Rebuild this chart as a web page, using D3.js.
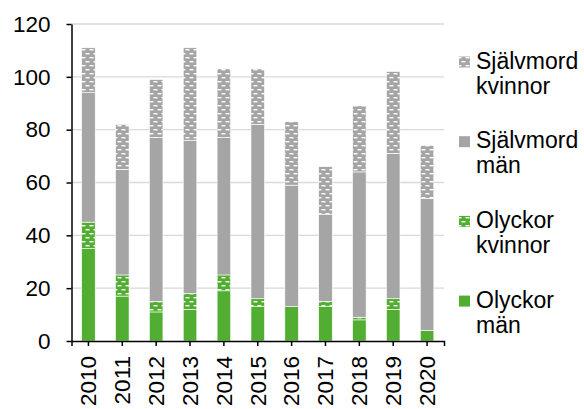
<!DOCTYPE html>
<html lang="sv">
  <head>
    <meta charset="UTF-8">
    <title>Olyckor och självmord</title>
    <script src="https://d3js.org/d3.v7.min.js"></script>
    <style>
      body {
        margin: 0;
        padding: 0;
        background: #fff;
        font-family: 'Liberation Sans', Arial, sans-serif;
      }
      .axis path,
      .axis line {
        stroke: #000;
        stroke-width: 1.5px;
      }
      .axis text {
        font-size: 22.5px;
        fill: #000;
      }
      .grid line {
        stroke: #d9d9d9;
        stroke-width: 1.3px;
      }
      .legend text {
        font-size: 23px;
        fill: #000;
      }
    </style>
  </head>
  <body>
    <svg id="chart" width="584" height="409"></svg>
    <script>
      const years = ["2010", "2011", "2012", "2013", "2014", "2015", "2016", "2017", "2018", "2019", "2020"];
      const olyckorMan = [35, 17, 11, 12, 19, 13, 13, 13, 8, 12, 4];
      const olyckorKvinnor = [10, 8, 4, 6, 6, 3, 0, 2, 1, 4, 0];
      const sjalvmordMan = [49, 40, 62, 58, 52, 66, 46, 33, 55, 55, 50];
      const sjalvmordKvinnor = [17, 17, 22, 35, 26, 21, 24, 18, 25, 31, 20];
      const yTicks = [0, 20, 40, 60, 80, 100, 120];

      const series = [
        { key: "om", name: ["Olyckor", "män"], values: olyckorMan, color: "#52ae32", pattern: false },
        { key: "ok", name: ["Olyckor", "kvinnor"], values: olyckorKvinnor, color: "#52ae32", pattern: true },
        { key: "sm", name: ["Självmord", "män"], values: sjalvmordMan, color: "#a5a5a5", pattern: false },
        { key: "sk", name: ["Självmord", "kvinnor"], values: sjalvmordKvinnor, color: "#a5a5a5", pattern: true }
      ];

      const svg = d3.select("#chart");
      const plotLeft = 71.5, plotRight = 444, plotTop = 24, plotBottom = 341;

      // brick-like hatch used by Excel for the "kvinnor" series
      const defs = svg.append("defs");
      series.filter(s => s.pattern).forEach(s => {
        const p = defs.append("pattern")
          .attr("id", "pat-" + s.key)
          .attr("patternUnits", "userSpaceOnUse")
          .attr("width", 8).attr("height", 8);
        p.append("rect").attr("width", 8).attr("height", 8).attr("fill", s.color);
        p.append("rect").attr("x", 1.5).attr("y", 1).attr("width", 4).attr("height", 1.4).attr("fill", "#fff");
        p.append("rect").attr("x", 5.5).attr("y", 5).attr("width", 2.5).attr("height", 1.4).attr("fill", "#fff");
        p.append("rect").attr("x", 0).attr("y", 5).attr("width", 1.5).attr("height", 1.4).attr("fill", "#fff");
      });
      const fillOf = s => s.pattern ? "url(#pat-" + s.key + ")" : s.color;

      const x = d3.scaleBand().domain(years).range([plotLeft, plotRight]).paddingInner(0.6).paddingOuter(0.3);
      const y = d3.scaleLinear().domain([0, 120]).range([plotBottom, plotTop]);

      // gridlines
      svg.append("g").attr("class", "grid")
        .selectAll("line").data(yTicks.filter(d => d > 0)).enter().append("line")
        .attr("x1", plotLeft).attr("x2", plotRight)
        .attr("y1", d => y(d)).attr("y2", d => y(d));

      const table = years.map((yr, i) => {
        const row = { year: yr };
        series.forEach(s => row[s.key] = s.values[i]);
        return row;
      });
      const stacked = d3.stack().keys(series.map(s => s.key))(table);

      svg.append("g").selectAll("g").data(stacked).enter().append("g")
        .attr("fill", (d, i) => fillOf(series[i]))
        .selectAll("rect").data(d => d).enter().append("rect")
        .attr("x", d => x(d.data.year))
        .attr("width", x.bandwidth())
        .attr("y", d => y(d[1]))
        .attr("height", d => y(d[0]) - y(d[1]))
        .attr("stroke", "#fff")
        .attr("stroke-width", 0.6);

      svg.append("g").attr("class", "axis")
        .attr("transform", "translate(" + plotLeft + ",0)")
        .call(d3.axisLeft(y).tickValues(yTicks).tickSize(5).tickPadding(16).tickSizeOuter(0));

      const xAxis = svg.append("g").attr("class", "axis")
        .attr("transform", "translate(0," + plotBottom + ")")
        .call(d3.axisBottom(x).tickSize(5).tickSizeOuter(5).tickPadding(0));
      xAxis.selectAll(".tick text")
        .attr("text-anchor", "end")
        .attr("transform", "translate(0,15) rotate(-90)")
        .attr("x", 0).attr("y", 0).attr("dy", "0.35em");

      // legend, top item is the top of the stack
      const legendItems = series.slice().reverse();
      const legend = svg.append("g").attr("class", "legend");
      legendItems.forEach((s, i) => {
        const base = 68.5 + i * 79.7;
        legend.append("rect")
          .attr("x", 459).attr("y", base - 12).attr("width", 11).attr("height", 11)
          .attr("fill", fillOf(s));
        legend.append("text").attr("x", 476).attr("y", base).text(s.name[0]);
        legend.append("text").attr("x", 476).attr("y", base + 25).text(s.name[1]);
      });
    </script>
  </body>
</html>
